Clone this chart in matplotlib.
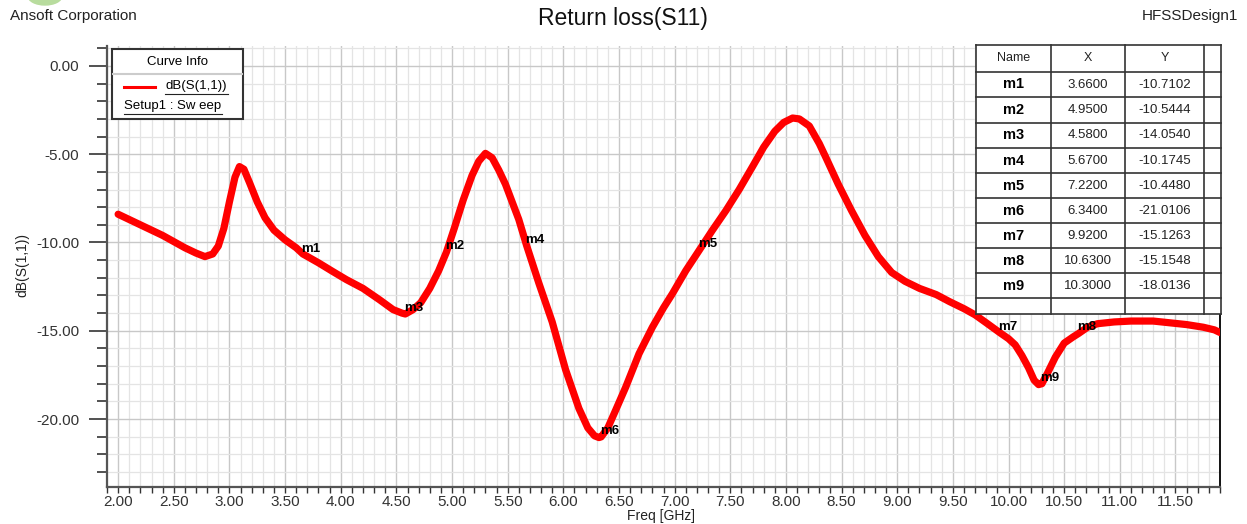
import matplotlib
matplotlib.use("Agg")
import matplotlib.pyplot as plt
from matplotlib.lines import Line2D
from matplotlib.patches import Rectangle, Ellipse
from matplotlib.ticker import MultipleLocator, FormatStrFormatter

plt.rcParams['font.family'] = ['Liberation Sans', 'DejaVu Sans']

# S11 curve
freq = [2.00, 2.10, 2.20, 2.30, 2.40, 2.50, 2.60, 2.70, 2.78, 2.85, 2.90, 2.95,
        3.00, 3.05, 3.09, 3.13, 3.18, 3.25, 3.32, 3.40, 3.50, 3.60, 3.66, 3.80,
        3.93, 4.05, 4.20, 4.35, 4.47, 4.55, 4.58, 4.65, 4.72, 4.80, 4.88, 4.95,
        5.02, 5.10, 5.18, 5.24, 5.30, 5.36, 5.42, 5.48, 5.54, 5.60, 5.67, 5.78,
        5.90, 6.02, 6.14, 6.22, 6.28, 6.32, 6.34, 6.40, 6.47, 6.56, 6.68, 6.80,
        6.90, 6.98, 7.10, 7.22, 7.34, 7.46, 7.58, 7.70, 7.80, 7.90, 7.98, 8.06,
        8.12, 8.21, 8.30, 8.36, 8.47, 8.59, 8.71, 8.83, 8.95, 9.07, 9.20, 9.35,
        9.47, 9.60, 9.70, 9.80, 9.92, 10.00, 10.06, 10.12, 10.18, 10.23, 10.27,
        10.30, 10.35, 10.42, 10.50, 10.58, 10.63, 10.71, 10.80, 10.95, 11.10,
        11.30, 11.45, 11.60, 11.75, 11.85, 11.90]
s11 = [-8.4, -8.7, -9.0, -9.3, -9.6, -9.95, -10.3, -10.6, -10.8, -10.65, -10.2, -9.2,
       -7.7, -6.3, -5.7, -5.85, -6.6, -7.7, -8.6, -9.3, -9.85, -10.3, -10.65, -11.15,
       -11.65, -12.1, -12.6, -13.25, -13.8, -14.0, -14.05, -13.8, -13.4, -12.6, -11.6, -10.54,
       -9.2, -7.6, -6.2, -5.4, -4.95, -5.2, -5.9, -6.7, -7.7, -8.7, -10.17, -12.3,
       -14.5, -17.2, -19.4, -20.5, -20.95, -21.05, -21.01, -20.5, -19.5, -18.2, -16.3, -14.8,
       -13.7, -12.9, -11.6, -10.45, -9.3, -8.2, -7.0, -5.7, -4.6, -3.7, -3.2, -2.95,
       -3.0, -3.4, -4.4, -5.2, -6.7, -8.2, -9.6, -10.8, -11.7, -12.2, -12.6, -12.95,
       -13.35, -13.75, -14.1, -14.55, -15.1, -15.45, -15.8, -16.4, -17.1, -17.8, -18.05,
       -18.0, -17.4, -16.5, -15.7, -15.35, -15.15, -14.8, -14.6, -14.5, -14.45,
       -14.45, -14.55, -14.65, -14.8, -14.95, -15.1]

marker_names = ['m1', 'm2', 'm3', 'm4', 'm5', 'm6', 'm7', 'm8', 'm9']
marker_x = [3.66, 4.95, 4.58, 5.67, 7.22, 6.34, 9.92, 10.63, 10.30]
marker_y = [-10.7102, -10.5444, -14.0540, -10.1745, -10.4480, -21.0106, -15.1263, -15.1548, -18.0136]

W, H = 1247, 524
fig = plt.figure(figsize=(W / 100, H / 100), dpi=100)


def fx(x):
    return x / W


def fy(y):
    return 1 - y / H


ax = fig.add_axes([fx(107), fy(487), (1220 - 107) / W, (487 - 46) / H])
ax.plot(freq, s11, color='red', lw=5.2, solid_capstyle='round',
        solid_joinstyle='round', zorder=3)

for name, x, y in zip(marker_names, marker_x, marker_y):
    ax.annotate(name, (x, y), xytext=(-1, 0), textcoords='offset points',
                ha='left', va='bottom', fontsize=9.5, fontweight='bold', zorder=4)

ax.set_xlim(1.9, 11.9)
ax.set_ylim(-23.85, 1.13)
ax.xaxis.set_major_locator(MultipleLocator(0.5))
ax.xaxis.set_minor_locator(MultipleLocator(0.1))
ax.yaxis.set_major_locator(MultipleLocator(5))
ax.yaxis.set_minor_locator(MultipleLocator(1))
ax.xaxis.set_major_formatter(FormatStrFormatter('%.2f'))
ax.yaxis.set_major_formatter(FormatStrFormatter('%.2f'))

ax.grid(which='major', color='#c8c8c8', lw=1.0, zorder=0)
ax.grid(which='minor', color='#e4e4e4', lw=0.9, zorder=0)
ax.set_axisbelow(True)

ax.tick_params(axis='y', which='major', length=13, width=1.2, pad=7, labelsize=11, colors='#333333')
ax.tick_params(axis='y', which='minor', length=7, width=1.2, colors='#333333')
ax.tick_params(axis='x', which='both', length=4, width=1.0, pad=2, labelsize=11, colors='#333333')

ax.spines['top'].set_visible(False)
ax.spines['left'].set_color('#555555')
ax.spines['left'].set_linewidth(1.6)
ax.spines['bottom'].set_color('#555555')
ax.spines['bottom'].set_linewidth(1.6)
ax.spines['right'].set_color('#111111')
ax.spines['right'].set_linewidth(1.4)

fig.text(fx(661), fy(516), 'Freq [GHz]', ha='center', va='center', fontsize=10, color='#222222')
fig.text(fx(22), fy(265), 'dB(S(1,1))', ha='center', va='center', rotation=90, fontsize=10, color='#222222')

# header texts
fig.text(fx(623), fy(18), 'Return loss(S11)', ha='center', va='center', fontsize=16.5, color='#111111')
fig.text(fx(10), fy(16), 'Ansoft Corporation', ha='left', va='center', fontsize=11, color='#222222')
fig.text(fx(1238), fy(16), 'HFSSDesign1', ha='right', va='center', fontsize=11, color='#222222')
fig.patches.append(Ellipse((fx(45), fy(-4)), 34 / W, 18 / H, color='#b8dc9e',
                           transform=fig.transFigure, figure=fig))


def hline(x0, x1, y, color='#333333', lw=1.2, z=10):
    fig.add_artist(Line2D([fx(x0), fx(x1)], [fy(y), fy(y)], color=color, lw=lw, zorder=z))


def vline(x, y0, y1, color='#333333', lw=1.2, z=10):
    fig.add_artist(Line2D([fx(x), fx(x)], [fy(y0), fy(y1)], color=color, lw=lw, zorder=z))


# curve info box
fig.add_artist(Rectangle((fx(112), fy(119)), (243 - 112) / W, (119 - 49) / H,
                         facecolor='white', edgecolor='#333333', lw=1.5, zorder=9,
                         transform=fig.transFigure))
hline(113, 242, 74, color='#cccccc', lw=1.5)
fig.text(fx(177), fy(62), 'Curve Info', ha='center', va='center', fontsize=9.5, zorder=11)
hline(124, 155, 87, color='red', lw=2.2)
fig.text(fx(165), fy(86), 'dB(S(1,1))', ha='left', va='center', fontsize=9.5, zorder=11)
hline(165, 228, 94, color='#222222', lw=0.8)
fig.text(fx(124), fy(106), 'Setup1 : Sw eep', ha='left', va='center', fontsize=9.5, zorder=11)
hline(124, 222, 114, color='#222222', lw=0.8)

# marker table
col_edges = [976, 1050.7, 1125, 1204.3, 1221]
row_edges = [45, 71.7, 97.3, 122.7, 148, 173.3, 198.3, 223.3, 248.3, 273.3, 298, 314]
fig.add_artist(Rectangle((fx(976), fy(314)), (1221 - 976) / W, (314 - 45) / H,
                         facecolor='white', edgecolor='none', zorder=9,
                         transform=fig.transFigure))
for y in row_edges:
    hline(col_edges[0], col_edges[-1], y)
for x in col_edges:
    vline(x, row_edges[0], row_edges[-1])

centers = [(col_edges[i] + col_edges[i + 1]) / 2 for i in range(3)]
ymid = (row_edges[0] + row_edges[1]) / 2
for cx, head in zip(centers, ['Name', 'X', 'Y']):
    fig.text(fx(cx), fy(ymid), head, ha='center', va='center', fontsize=9, color='#222222', zorder=11)
for i, (name, x, y) in enumerate(zip(marker_names, marker_x, marker_y)):
    ymid = (row_edges[i + 1] + row_edges[i + 2]) / 2
    fig.text(fx(centers[0]), fy(ymid), name, ha='center', va='center', fontsize=10.5,
             fontweight='bold', zorder=11)
    fig.text(fx(centers[1]), fy(ymid), '%.4f' % x, ha='center', va='center', fontsize=9.5,
             color='#222222', zorder=11)
    fig.text(fx(centers[2]), fy(ymid), '%.4f' % y, ha='center', va='center', fontsize=9.5,
             color='#222222', zorder=11)

fig.savefig('out.png', dpi=100)
